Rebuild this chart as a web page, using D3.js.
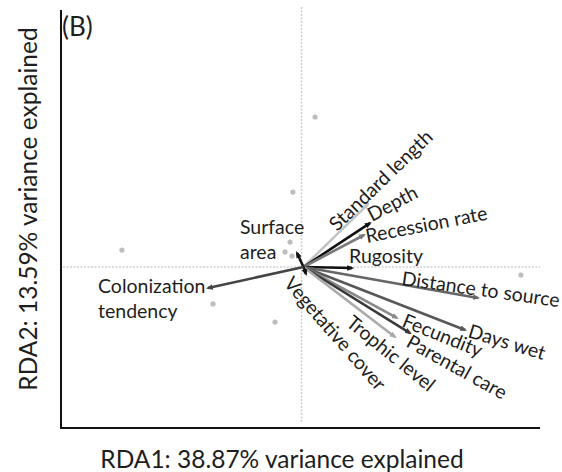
<!DOCTYPE html>
<html>
<head>
<meta charset="utf-8">
<script src="https://cdn.jsdelivr.net/npm/d3@7"></script>
<style>
  body { margin: 0; background: #fff; }
  text { font-family: Lato, "Open Sans", sans-serif; fill: #1e1e1e; }
</style>
</head>
<body>
<div id="plot"></div>
<script>
// site scores (gray dots)
var siteX = [0.057, -0.036, -0.753, -0.371, -0.111, -0.048, -0.069, -0.040, 0.920];
var siteY = [0.577, 0.288, 0.065, -0.142, -0.212, 0.096, 0.058, 0.042, -0.031];

// biplot arrows
var varNames = ["Standard length", "Depth", "Recession rate", "Rugosity", "Distance to source",
    "Days wet", "Fecundity", "Parental care", "Trophic level", "Vegetative cover",
    "Surface area", "Colonization tendency"];
var varX = [0.279, 0.287, 0.262, 0.212, 0.740, 0.686, 0.400, 0.455, 0.392, 0.019, -0.019, -0.392];
var varY = [0.242, 0.169, 0.123, -0.004, -0.119, -0.242, -0.196, -0.254, -0.269, -0.027, 0.054, -0.081];

var xTitle = "RDA1: 38.87% variance explained";
var yTitle = "RDA2: 13.59% variance explained";

// arrow colours + label placement (offset from arrow tip, rotation, line breaks)
var arrowColor = ["#c4c4c4", "#111", "#7a7a7a", "#111", "#666", "#585858", "#8a8a8a", "#3a3a3a", "#aaa", "#111", "#111", "#444"];
var labelLayout = [
    { dx: -31, dy: 28, rot: -44, lines: ["Standard length"] },
    { dx: 2, dy: -1, rot: -28, lines: ["Depth"] },
    { dx: 3, dy: 8, rot: -11, lines: ["Recession rate"] },
    { dx: -3, dy: -5, rot: 0, lines: ["Rugosity"] },
    { dx: -77, dy: -13, rot: 8, lines: ["Distance to source"] },
    { dx: 2, dy: 7, rot: 17, lines: ["Days wet"] },
    { dx: 4, dy: 8, rot: 22, lines: ["Fecundity"] },
    { dx: -5, dy: 13, rot: 29, lines: ["Parental care"] },
    { dx: -50, dy: -12, rot: 39, lines: ["Trophic level"] },
    { dx: -23, dy: 10, rot: 49, lines: ["Vegetative cover"] },
    { dx: -57, dy: -19, rot: 0, lines: ["Surface", "area"] },
    { dx: -110, dy: 5, rot: 0, lines: ["Colonization", "tendency"] }
];

var svgWidth = 562;
var svgHeight = 472;

var svg = d3.select("#plot")
    .append("svg")
    .attr("width", svgWidth)
    .attr("height", svgHeight);

var x = d3.scaleLinear().domain([-1, 1]).range([63, 540]);
var y = d3.scaleLinear().domain([-0.6, 1]).range([423, 7]);

// dotted zero lines
svg.append("line")
    .attr("x1", x(-1)).attr("x2", x(1))
    .attr("y1", y(0)).attr("y2", y(0))
    .attr("stroke", "#cfcfcf").attr("stroke-width", 1.5)
    .attr("stroke-dasharray", "2,1.5");
svg.append("line")
    .attr("x1", x(0)).attr("x2", x(0))
    .attr("y1", y(1)).attr("y2", y(-0.6))
    .attr("stroke", "#cfcfcf").attr("stroke-width", 1.5)
    .attr("stroke-dasharray", "2,1.5");

// axis frame (left + bottom)
svg.append("path")
    .attr("d", `M${x(-1) - 2},${y(1) + 3} V${y(-0.6) + 5} H${x(1)}`)
    .attr("fill", "none")
    .attr("stroke", "#111")
    .attr("stroke-width", 2);

// site points
var sites = siteX.map((v, i) => ({ x: v, y: siteY[i] }));
svg.selectAll("circle.site")
    .data(sites)
    .enter()
    .append("circle")
    .attr("class", "site")
    .attr("cx", d => x(d.x))
    .attr("cy", d => y(d.y))
    .attr("r", 2.6)
    .attr("fill", "#bdbdbd");

// arrowheads, one per colour
var defs = svg.append("defs");
arrowColor.forEach(function (c, i) {
    defs.append("marker")
        .attr("id", "ah" + i)
        .attr("viewBox", "0 0 10 10")
        .attr("refX", 7).attr("refY", 5)
        .attr("markerWidth", 7).attr("markerHeight", 7)
        .attr("markerUnits", "userSpaceOnUse")
        .attr("orient", "auto")
        .append("path")
        .attr("d", "M0,1 L10,5 L0,9 Z")
        .attr("fill", c);
});

var vars = varNames.map((n, i) => ({ name: n, x: varX[i], y: varY[i], col: arrowColor[i], lay: labelLayout[i], idx: i }));

svg.selectAll("line.arrow")
    .data(vars)
    .enter()
    .append("line")
    .attr("class", "arrow")
    .attr("x1", x(0) + 2)
    .attr("y1", y(0))
    .attr("x2", d => x(d.x))
    .attr("y2", d => y(d.y))
    .attr("stroke", d => d.col)
    .attr("stroke-width", 2.6)
    .attr("marker-end", d => "url(#ah" + d.idx + ")");

// labels
var labels = svg.selectAll("text.vlab")
    .data(vars)
    .enter()
    .append("text")
    .attr("class", "vlab")
    .attr("font-size", 19.5)
    .attr("transform", d => `translate(${x(d.x) + d.lay.dx},${y(d.y) + d.lay.dy}) rotate(${d.lay.rot})`);
labels.selectAll("tspan")
    .data(d => d.lay.lines)
    .enter()
    .append("tspan")
    .attr("x", 0)
    .attr("dy", (d, i) => i === 0 ? 0 : 25)
    .text(d => d);

// panel tag
svg.append("text")
    .attr("x", 62)
    .attr("y", 36)
    .attr("font-size", 26)
    .text("(B)");

// axis titles
svg.append("text")
    .attr("x", 282)
    .attr("y", 468)
    .attr("text-anchor", "middle")
    .attr("font-size", 24.5)
    .text(xTitle);

svg.append("text")
    .attr("transform", "translate(37,209) rotate(-90)")
    .attr("text-anchor", "middle")
    .attr("font-size", 24.5)
    .text(yTitle);
</script>
</body>
</html>
